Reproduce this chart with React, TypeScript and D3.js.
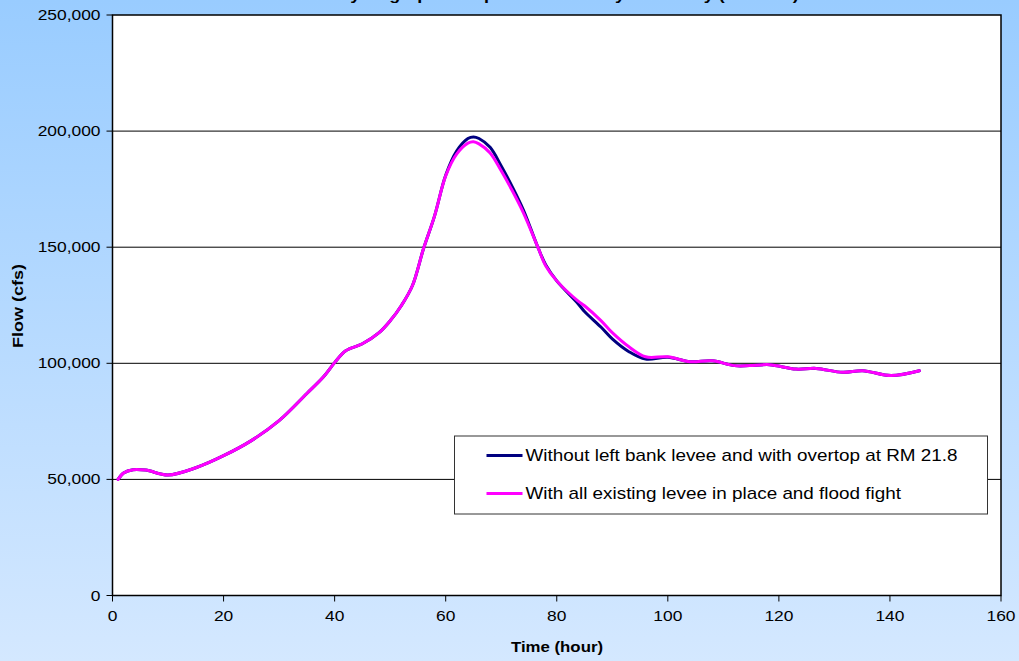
import * as d3 from "d3";
import React from "react";

// hours
const hours = [1, 2, 3.7, 6, 10, 15, 20, 25, 30, 35, 38, 40, 42, 45, 48, 50, 52, 54, 56, 58, 60, 62, 64, 65, 66, 68, 70, 72, 74, 76.6, 78, 80, 83.8, 85, 88, 90, 93, 96, 100, 104, 108, 112, 114.7, 118.3, 123.1, 126.7, 131.5, 135.1, 140.2, 145.3];

// flow (cfs) - without left bank levee, overtop at RM 21.8
const flowOvertop = [50000, 52800, 54200, 54000, 51900, 55000, 60200, 66700, 75300, 87000, 94200, 100300, 105400, 108400, 113200, 118300, 124800, 133400, 149300, 163500, 181000, 191500, 196800, 197500, 196800, 193000, 185000, 176000, 166000, 150000, 142500, 135500, 125800, 122300, 115500, 110500, 105000, 101800, 102600, 100700, 101100, 99000, 99000, 99400, 97500, 97800, 96100, 96800, 94700, 96800];

// flow (cfs) - all existing levee in place and flood fight
const flowLevee = [50000, 52800, 54200, 54000, 51900, 55000, 60200, 66700, 75300, 87000, 94200, 100300, 105400, 108400, 113200, 118300, 124800, 133400, 149300, 163500, 180700, 190200, 194800, 195400, 194500, 190600, 182900, 174300, 164800, 150000, 142000, 135500, 126900, 124800, 118300, 113200, 107100, 102800, 102800, 100700, 101100, 99000, 99000, 99400, 97500, 97800, 96100, 96800, 94700, 96800];

const seriesNames = [
  "Without left bank levee and with overtop at RM 21.8",
  "With all existing levee in place and flood fight",
];
const seriesColors = ["#000080", "#FF00FF"];

const xTicks = [0, 20, 40, 60, 80, 100, 120, 140, 160];
const yTicks = [0, 50000, 100000, 150000, 200000, 250000];

const W = 1019;
const H = 661;
const left = 112.5;
const right = 1001;
const top = 15;
const bottom = 595.5;
const sx = 1.2; // text in the source is a bit wider than plain Arial

export default function App() {
  const x = d3.scaleLinear().domain([0, 160]).range([left, right]);
  const y = d3.scaleLinear().domain([0, 250000]).range([bottom, top]);
  const fmt = d3.format(",");

  const line = d3
    .line<[number, number]>()
    .x((d) => x(d[0]))
    .y((d) => y(d[1]))
    .curve(d3.curveCatmullRom.alpha(0.5));

  const series = [flowOvertop, flowLevee].map((vals) =>
    hours.map((h, i) => [h, vals[i]] as [number, number])
  );

  const font = "Arial, 'Liberation Sans', sans-serif";

  return (
    <svg
      width={W}
      height={H}
      style={{ position: "fixed", left: 0, top: 0 }}
      fontFamily={font}
    >
      <defs>
        <linearGradient id="bg" x1="0" y1="0" x2="0" y2="1">
          <stop offset="0" stopColor="#99CCFF" />
          <stop offset="1" stopColor="#D4E8FF" />
        </linearGradient>
      </defs>
      <rect x={0} y={0} width={W} height={H} fill="url(#bg)" />

      <text transform={`translate(545, 0) scale(${sx}, 1)`} textAnchor="middle" fontWeight="bold" fontSize={15}>
        Flow Hydrograph Comparison at Study Boundary (RM 21.8)
      </text>

      <rect x={left} y={top} width={right - left} height={bottom - top} fill="#fff" />

      {yTicks.map((t) => (
        <g key={"y" + t}>
          {t > 0 && t < 250000 && (
            <line x1={left} x2={right} y1={y(t)} y2={y(t)} stroke="#000" strokeWidth={1} />
          )}
          <line x1={left - 6} x2={left} y1={y(t)} y2={y(t)} stroke="#000" strokeWidth={1} />
          <text
            transform={`translate(${left - 12}, ${y(t)}) scale(${sx}, 1)`}
            dy="0.35em"
            textAnchor="end"
            fontSize={14.5}
          >
            {fmt(t)}
          </text>
        </g>
      ))}

      {xTicks.map((t) => (
        <g key={"x" + t}>
          <line x1={x(t)} x2={x(t)} y1={bottom} y2={bottom + 6} stroke="#000" strokeWidth={1} />
          <text
            transform={`translate(${x(t)}, ${bottom + 25}) scale(${sx}, 1)`}
            textAnchor="middle"
            fontSize={14.5}
          >
            {t}
          </text>
        </g>
      ))}

      {series.map((s, i) => (
        <path
          key={"s" + i}
          d={line(s) || ""}
          fill="none"
          stroke={seriesColors[i]}
          strokeWidth={3}
          strokeLinejoin="round"
          strokeLinecap="round"
        />
      ))}

      <rect
        x={left}
        y={top}
        width={right - left}
        height={bottom - top}
        fill="none"
        stroke="#000"
        strokeWidth={1.5}
      />

      <g transform="translate(454.5, 436)">
        <rect x={0} y={0} width={533} height={78} fill="#fff" stroke="#333" strokeWidth={1} />
        {seriesNames.map((n, i) => (
          <g key={"l" + i} transform={`translate(0, ${19.5 + i * 38})`}>
            <line x1={32} x2={68} y1={0} y2={0} stroke={seriesColors[i]} strokeWidth={3} />
            <text transform={`translate(71, 0) scale(1.18, 1)`} dy="0.36em" fontSize={16}>
              {n}
            </text>
          </g>
        ))}
      </g>

      <text
        transform={`translate(557, 652) scale(${sx}, 1)`}
        textAnchor="middle"
        fontWeight="bold"
        fontSize={14}
      >
        Time (hour)
      </text>
      <text
        transform="translate(23, 306) rotate(-90)"
        textAnchor="middle"
        fontWeight="bold"
        fontSize={15}
        textLength={84}
        lengthAdjust="spacingAndGlyphs"
      >
        Flow (cfs)
      </text>
    </svg>
  );
}
